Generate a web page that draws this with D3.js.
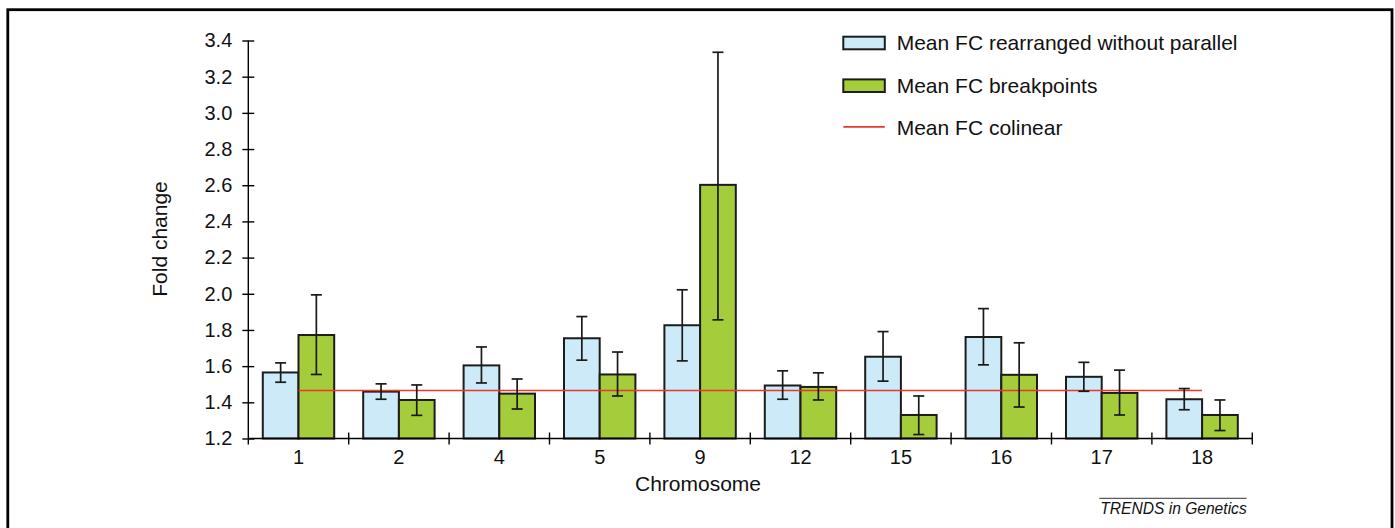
<!DOCTYPE html>
<html>
<head>
<meta charset="utf-8">
<script src="https://cdn.jsdelivr.net/npm/d3@7"></script>
<style>
  body { margin: 0; background: #fff; }
  svg { display: block; font-family: 'Liberation Sans', Arial, sans-serif; }
</style>
</head>
<body>
<svg id="chart" width="1395" height="528"></svg>
<script>
var chromosomes = ['1', '2', '4', '5', '9', '12', '15', '16', '17', '18'];
var rearranged = [1.565, 1.459, 1.604, 1.754, 1.826, 1.493, 1.652, 1.761, 1.541, 1.417];
var rearrangedLow = [1.511, 1.417, 1.507, 1.633, 1.629, 1.417, 1.517, 1.607, 1.461, 1.359];
var rearrangedHigh = [1.618, 1.502, 1.706, 1.874, 2.022, 1.574, 1.791, 1.918, 1.621, 1.476];
var breakpoints = [1.772, 1.413, 1.448, 1.554, 2.602, 1.485, 1.33, 1.552, 1.452, 1.33];
var breakpointsLow = [1.554, 1.328, 1.363, 1.435, 1.856, 1.413, 1.222, 1.374, 1.33, 1.244];
var breakpointsHigh = [1.994, 1.496, 1.529, 1.678, 3.335, 1.563, 1.435, 1.729, 1.578, 1.413];
var colinear = 1.465;
var yTicks = [1.2, 1.4, 1.6, 1.8, 2.0, 2.2, 2.4, 2.6, 2.8, 3.0, 3.2, 3.4];
var seriesNames = ['Mean FC rearranged without parallel', 'Mean FC breakpoints', 'Mean FC colinear'];

var svg = d3.select('#chart');

// frame
svg.append('rect')
  .attr('x', 7.8).attr('y', 9.7)
  .attr('width', 1384.2).attr('height', 540)
  .attr('fill', 'none')
  .attr('stroke', '#000')
  .attr('stroke-width', 2.8);

var x0 = d3.scaleBand().domain(chromosomes).range([248.3, 1252.3]).padding(0);
var x1 = d3.scaleBand().domain(['rearranged', 'breakpoints'])
  .range([0, x0.bandwidth()]).paddingInner(0).paddingOuter(0.406);
var y = d3.scaleLinear().domain([1.2, 3.4]).range([438.5, 40.5]);

var rows = chromosomes.map(function(c, i) {
  return [
    {chr: c, key: 'rearranged', v: rearranged[i], lo: rearrangedLow[i], hi: rearrangedHigh[i], fill: '#cdeaf9'},
    {chr: c, key: 'breakpoints', v: breakpoints[i], lo: breakpointsLow[i], hi: breakpointsHigh[i], fill: '#a5cd3b'}
  ];
});
var bars = d3.merge(rows);

svg.selectAll('rect.bar')
  .data(bars).enter()
  .append('rect')
  .attr('class', 'bar')
  .attr('x', function(d) { return x0(d.chr) + x1(d.key); })
  .attr('y', function(d) { return y(d.v); })
  .attr('width', x1.bandwidth())
  .attr('height', function(d) { return y(1.2) - y(d.v); })
  .attr('fill', function(d) { return d.fill; })
  .attr('stroke', '#1c1c1c')
  .attr('stroke-width', 2);

// colinear mean line
svg.append('line')
  .attr('x1', x0('1') + x0.bandwidth() / 2)
  .attr('x2', x0('18') + x0.bandwidth() / 2)
  .attr('y1', y(colinear)).attr('y2', y(colinear))
  .attr('stroke', '#e8392b')
  .attr('stroke-width', 1.6);

// error bars
var err = svg.selectAll('g.err')
  .data(bars).enter()
  .append('g')
  .attr('class', 'err')
  .attr('transform', function(d) { return 'translate(' + (x0(d.chr) + x1(d.key) + x1.bandwidth() / 2) + ',0)'; })
  .attr('stroke', '#1a1a1a')
  .attr('stroke-width', 1.7);
err.append('line')
  .attr('x1', 0).attr('x2', 0)
  .attr('y1', function(d) { return y(d.lo); })
  .attr('y2', function(d) { return y(d.hi); });
err.append('line')
  .attr('x1', -5.5).attr('x2', 5.5)
  .attr('y1', function(d) { return y(d.lo); })
  .attr('y2', function(d) { return y(d.lo); });
err.append('line')
  .attr('x1', -5.5).attr('x2', 5.5)
  .attr('y1', function(d) { return y(d.hi); })
  .attr('y2', function(d) { return y(d.hi); });

// y axis
var yAxis = svg.append('g')
  .attr('transform', 'translate(248.3,0)')
  .call(d3.axisLeft(y).tickValues(yTicks).tickFormat(d3.format('.1f')).tickSize(6).tickPadding(10));
yAxis.select('.domain').remove();
yAxis.append('line')
  .attr('x1', 0).attr('x2', 0)
  .attr('y1', y(3.4)).attr('y2', y(1.2) + 6)
  .attr('stroke', '#000').attr('stroke-width', 1.4);
yAxis.selectAll('.tick line').attr('x1', 6).attr('x2', -6).attr('stroke-width', 1.4);
yAxis.selectAll('.tick text')
  .attr('x', -16)
  .style('font-size', '20px')
  .style('font-family', "'Liberation Sans', Arial, sans-serif")
  .attr('fill', '#111');

// x axis
var xAxis = svg.append('g')
  .attr('transform', 'translate(0,' + y(1.2) + ')')
  .call(d3.axisBottom(x0).tickSize(0).tickPadding(11));
xAxis.select('.domain').remove();
xAxis.append('line')
  .attr('x1', 248.3).attr('x2', 1252.3)
  .attr('stroke', '#000').attr('stroke-width', 1.4);
xAxis.selectAll('.tick text')
  .style('font-size', '20px')
  .style('font-family', "'Liberation Sans', Arial, sans-serif")
  .attr('fill', '#111');
var bounds = chromosomes.map(function(c) { return x0(c) + x0.bandwidth(); });
xAxis.selectAll('line.bound')
  .data(bounds).enter()
  .append('line')
  .attr('class', 'bound')
  .attr('x1', function(d) { return d; })
  .attr('x2', function(d) { return d; })
  .attr('y1', -6).attr('y2', 6)
  .attr('stroke', '#000').attr('stroke-width', 1.4);

// axis titles
svg.append('text')
  .attr('x', 698)
  .attr('y', 491)
  .attr('text-anchor', 'middle')
  .style('font-size', '21px')
  .attr('fill', '#111')
  .text('Chromosome');

svg.append('text')
  .attr('transform', 'translate(167,239) rotate(-90)')
  .attr('text-anchor', 'middle')
  .style('font-size', '21px')
  .attr('fill', '#111')
  .text('Fold change');

// legend
var legend = svg.selectAll('g.legend')
  .data(seriesNames).enter()
  .append('g')
  .attr('class', 'legend')
  .attr('transform', function(d, i) { return 'translate(843.3,' + (43 + i * 42.7) + ')'; });
legend.filter(function(d, i) { return i < 2; })
  .append('rect')
  .attr('x', 0).attr('y', -6.3)
  .attr('width', 41.5).attr('height', 12.6)
  .attr('fill', function(d, i) { return i === 0 ? '#cdeaf9' : '#a5cd3b'; })
  .attr('stroke', '#1c1c1c')
  .attr('stroke-width', 2);
legend.filter(function(d, i) { return i === 2; })
  .append('line')
  .attr('x1', 0).attr('x2', 41.5)
  .attr('y1', -1.5).attr('y2', -1.5)
  .attr('stroke', '#e8392b')
  .attr('stroke-width', 1.6);
legend.append('text')
  .attr('x', 53.4)
  .attr('y', 7)
  .style('font-size', '21px')
  .attr('fill', '#111')
  .text(function(d) { return d; });

// journal mark
svg.append('line')
  .attr('x1', 1099.3).attr('x2', 1246.7)
  .attr('y1', 498.3).attr('y2', 498.3)
  .attr('stroke', '#333').attr('stroke-width', 1);
svg.append('text')
  .attr('x', 1246.7)
  .attr('y', 514.3)
  .attr('text-anchor', 'end')
  .style('font-size', '15.6px')
  .style('font-style', 'italic')
  .attr('fill', '#111')
  .text('TRENDS in Genetics');
</script>
</body>
</html>
